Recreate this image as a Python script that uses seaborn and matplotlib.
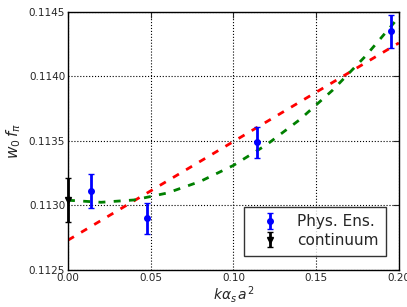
import numpy as np
import pandas as pd
import matplotlib
matplotlib.use("Agg")
import matplotlib.pyplot as plt
import seaborn as sns

# Data
phys_x = [0.0137, 0.048, 0.114, 0.195]
phys_y = [0.11311, 0.11290, 0.11349, 0.11435]
phys_err = [0.00013, 0.00012, 0.00012, 0.00013]

cont_x = [0.0]
cont_y = [0.11304]
cont_err = [0.00017]

lin_x = [0.0, 0.2]
lin_y = [0.11273, 0.11426]

quad_x = [0.0, 0.02, 0.04, 0.06, 0.08, 0.10, 0.12, 0.14, 0.16, 0.18, 0.20]
quad_y = [0.113040, 0.113024, 0.113042, 0.113096, 0.113186, 0.113310,
          0.113470, 0.113664, 0.113894, 0.114160, 0.114460]

xticks = [0.00, 0.05, 0.10, 0.15, 0.20]
yticks = [0.1125, 0.1130, 0.1135, 0.1140, 0.1145]

sns.set_style("white", {
    "axes.edgecolor": "black",
    "axes.grid": True,
    "grid.color": "black",
    "grid.linestyle": ":",
    "xtick.direction": "in",
    "ytick.direction": "in",
})
plt.rcParams['font.family'] = ['DejaVu Sans']

fig = plt.figure(figsize=(4.07, 3.07), dpi=100)
ax = fig.add_axes([0.167, 0.121, 0.813, 0.840])

lin_df = pd.DataFrame({"x": lin_x, "y": lin_y})
quad_df = pd.DataFrame({"x": quad_x, "y": quad_y})
sns.lineplot(data=lin_df, x="x", y="y", ax=ax, color="red", linestyle="--",
             linewidth=2, legend=False)
ax.lines[-1].set_dashes([2.5, 3])
sns.lineplot(data=quad_df, x="x", y="y", ax=ax, color="green", linestyle="--",
             linewidth=2, legend=False)
ax.lines[-1].set_dashes([2.5, 3])

h1 = ax.errorbar(phys_x, phys_y, yerr=phys_err, fmt="o", color="blue",
                 markersize=4, elinewidth=2, capsize=2.5, capthick=1,
                 label="Phys. Ens.", zorder=5)
h2 = ax.errorbar(cont_x, cont_y, yerr=cont_err, fmt="v", color="black",
                 markersize=4, elinewidth=2, capsize=2.5, capthick=1,
                 label="continuum", zorder=5)
for art in h2.get_children():
    art.set_clip_on(False)

ax.set_xlim(0.0, 0.2)
ax.set_ylim(0.1125, 0.1145)
ax.set_xticks(xticks)
ax.set_yticks(yticks)
ax.set_xticklabels([f"{v:.2f}" for v in xticks], fontsize=7.5)
ax.set_yticklabels([f"{v:.4f}" for v in yticks], fontsize=7.5)
ax.tick_params(axis="both", which="both", direction="in", length=4,
               top=True, right=True, pad=2)
for s in ax.spines.values():
    s.set_linewidth(1.0)
    s.set_color("black")

ax.set_xlabel(r"$k\alpha_s\,a^2$", fontsize=10, labelpad=1)
ax.set_ylabel(r"$w_0\,f_\pi$", fontsize=11, labelpad=4)

leg = ax.legend(handles=[h1, h2], loc="lower right", fontsize=11,
                numpoints=1, frameon=True, fancybox=False,
                handlelength=2.4, borderpad=0.5, labelspacing=0.25,
                handletextpad=0.6, bbox_to_anchor=(0.985, 0.025))
leg.get_frame().set_edgecolor("black")
leg.get_frame().set_linewidth(1.0)

fig.savefig("out.png", dpi=100)
